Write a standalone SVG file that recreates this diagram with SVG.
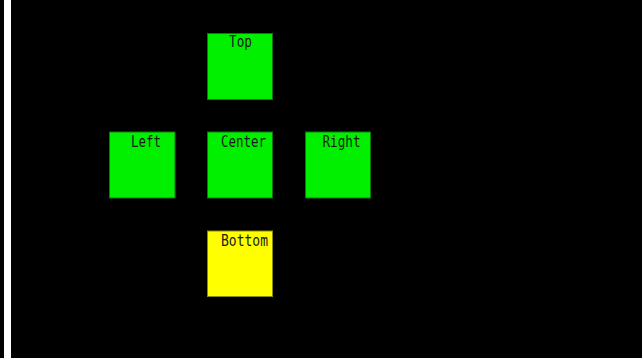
<svg xmlns="http://www.w3.org/2000/svg" width="642" height="358" viewBox="0 0 642 358">
<style>
.box{stroke:#0a7a0a;stroke-width:1}
.g{fill:#00f000}
.y{fill:#ffff00;stroke:#8a8a00}
.t{font-family:"DejaVu Sans Mono","Liberation Mono",monospace;font-size:15px;fill:#1a1a1a}
</style>
<rect x="0" y="0" width="642" height="358" fill="#000"/>
<rect x="4" y="0" width="7" height="358" fill="#fff"/>
<g id="top"><rect class="box g" x="207.5" y="33.5" width="65" height="66"/><text class="t" x="229" y="47" textLength="23" lengthAdjust="spacingAndGlyphs">Top</text></g>
<g id="left"><rect class="box g" x="109.5" y="132" width="65.5" height="66"/><text class="t" x="131" y="147" textLength="30" lengthAdjust="spacingAndGlyphs">Left</text></g>
<g id="center"><rect class="box g" x="207.5" y="132" width="65" height="66"/><text class="t" x="221" y="147" textLength="45" lengthAdjust="spacingAndGlyphs">Center</text></g>
<g id="right"><rect class="box g" x="305.5" y="132" width="65" height="66"/><text class="t" x="322.5" y="147" textLength="38" lengthAdjust="spacingAndGlyphs">Right</text></g>
<g id="bottom"><rect class="box y" x="207.5" y="231" width="65" height="65.5"/><text class="t" x="221" y="246" textLength="47" lengthAdjust="spacingAndGlyphs">Bottom</text></g>
<g id="connectors"></g>
</svg>
